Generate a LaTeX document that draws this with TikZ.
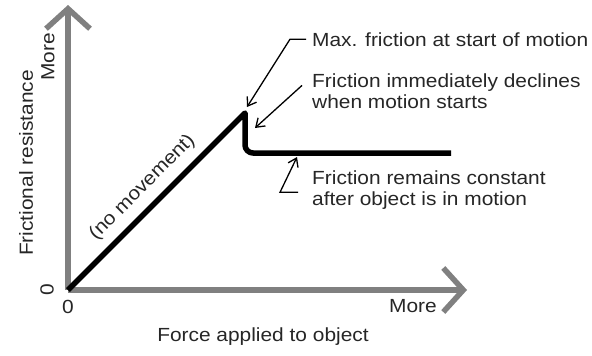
\documentclass[tikz,border=0pt]{standalone}
\usepackage{fontspec}
\setmainfont{Liberation Sans}[FakeStretch=1.1]
\usetikzlibrary{arrows.meta, positioning}

\begin{document}
\begin{tikzpicture}[x=1pt, y=-1pt,
  every node/.style={font=\fontsize{19}{20.5}\selectfont, text=black!85, inner sep=0pt},
  axis/.style={line width=5.5pt, draw=black!50, -{Straight Barb[length=20pt, width=44pt, line width=5.5pt]}},
  curve/.style={line width=5.5pt, line join=round},
  lead/.style={line width=1.3pt, -{Straight Barb[length=8pt, width=11pt, line width=1.3pt]}}]
  \useasboundingbox (0,0) rectangle (592,356);
  % axes
  \coordinate (orig) at (68,290);
  \coordinate (ytip) at (68,5);
  \coordinate (xtip) at (467,290);
  \draw[axis] (orig) -- (ytip);
  \draw[axis] (orig) -- (xtip);
  \node[rotate=90] (ymore) at (48,57) {More};
  \node[rotate=90] (yzero) at (47,290) {0};
  \node (xzero) at (68,307) {0};
  \node (xmore) at (413,306) {More};
  \node (xlabel) at (263,337) {Force applied to object};
  \node[rotate=90] (ylabel) at (26,163) {Frictional resistance};
  % friction curve
  \coordinate (peak) at (245,113);
  \coordinate (drop) at (245,153);
  \coordinate (flat) at (451,153);
  \draw[curve] (orig) -- (peak) [rounded corners=8pt] -- (drop) -- (flat);
  \path (orig) -- node[sloped, above=11pt, pos=0.5] (nomove) {(no movement)} (peak);
  % annotations
  \node[anchor=base west] (maxlbl) at (312,46) {Max. friction at start of motion};
  \node[anchor=north west, align=left] (declbl) at (312,74) {Friction immediately declines\\when motion starts};
  \node[anchor=north west, align=left] (constlbl) at (312,171) {Friction remains constant\\after object is in motion};
  \coordinate (maxtip) at (247,107);
  \coordinate (dectip) at (255,128);
  \coordinate (consttip) at (297,157);
  \draw[lead] ([xshift=-6pt]maxlbl.west) -- ++(-16,0) -- (maxtip);
  \draw[lead] ([xshift=-10pt, yshift=6pt]declbl.west) -- (dectip);
  \draw[lead] ([xshift=-14pt, yshift=-2pt]constlbl.west) -- ++(-18,0) -- (consttip);
\end{tikzpicture}
\end{document}
